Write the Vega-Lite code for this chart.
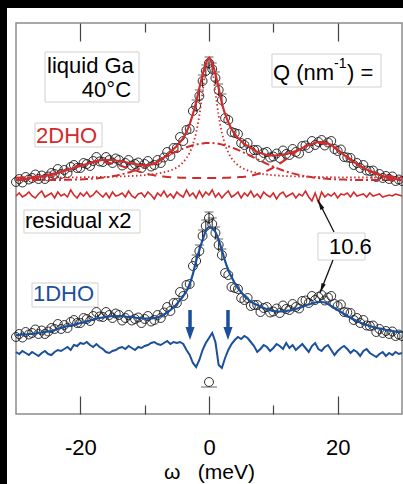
{
"$schema": "https://vega.github.io/schema/vega-lite/v6.json",
"width": 386, "height": 391,
"autosize": {"type": "none"},
"padding": {"left": 16, "top": 23, "right": 1, "bottom": 70},
"background": "white",
"data": {"values": [{}]},
"config": {"view": {"stroke": "#8c8c8c", "strokeWidth": 1.5}, "font": "Liberation Sans", "text": {"font": "Liberation Sans", "fontSize": 22}},
"datasets": {
"m": [
{"w":-30,"c2":232,"f2":234,"r2":218,"c1":77,"f1":79,"r1":62},
{"w":-29.5,"c2":235,"f2":234,"r2":221,"c1":80,"f1":79,"r1":60},
{"w":-29,"c2":231.5,"f2":234.5,"r2":217,"c1":76.5,"f1":79.5,"r1":63},
{"w":-28.5,"c2":237,"f2":235,"r2":219,"c1":82,"f1":79.5,"r1":61},
{"w":-28,"c2":234.5,"f2":235.5,"r2":222,"c1":79.5,"f1":80,"r1":59},
{"w":-27.5,"c2":236,"f2":236,"r2":218,"c1":81,"f1":80,"r1":62},
{"w":-27,"c2":239.5,"f2":236.5,"r2":216,"c1":84.5,"f1":80.5,"r1":60},
{"w":-26.5,"c2":235,"f2":237,"r2":220,"c1":80,"f1":81,"r1":58},
{"w":-26,"c2":238.5,"f2":237.5,"r2":223,"c1":83.5,"f1":81.5,"r1":61},
{"w":-25.5,"c2":235,"f2":238,"r2":217,"c1":80,"f1":82,"r1":63},
{"w":-25,"c2":237.5,"f2":238.5,"r2":219,"c1":82.5,"f1":82.5,"r1":60},
{"w":-24.5,"c2":241,"f2":239,"r2":221,"c1":86,"f1":83,"r1":59},
{"w":-24,"c2":240,"f2":240,"r2":216,"c1":85,"f1":84,"r1":62},
{"w":-23.5,"c2":245,"f2":241,"r2":222,"c1":90,"f1":85,"r1":64},
{"w":-23,"c2":240,"f2":242,"r2":218,"c1":85,"f1":86,"r1":63},
{"w":-22.5,"c2":244,"f2":243,"r2":220,"c1":89,"f1":87,"r1":65},
{"w":-22,"c2":241,"f2":244,"r2":217,"c1":86,"f1":88,"r1":67},
{"w":-21.5,"c2":247,"f2":245,"r2":224,"c1":92,"f1":88.5,"r1":64},
{"w":-21,"c2":249,"f2":246,"r2":219,"c1":94,"f1":89,"r1":69},
{"w":-20.5,"c2":246,"f2":247,"r2":216,"c1":91,"f1":90,"r1":68},
{"w":-20,"c2":246,"f2":248,"r2":221,"c1":91,"f1":91,"r1":71},
{"w":-19.5,"c2":251,"f2":249,"r2":218,"c1":96,"f1":91.5,"r1":70},
{"w":-19,"c2":250,"f2":250,"r2":222,"c1":95,"f1":92.5,"r1":72},
{"w":-18.5,"c2":248,"f2":251,"r2":217,"c1":93,"f1":93.5,"r1":69},
{"w":-18,"c2":253,"f2":252,"r2":219,"c1":98,"f1":94.5,"r1":67},
{"w":-17.5,"c2":257,"f2":253,"r2":223,"c1":102,"f1":95.5,"r1":70},
{"w":-17,"c2":252.5,"f2":253.5,"r2":220,"c1":97.5,"f1":96,"r1":67},
{"w":-16.5,"c2":252,"f2":254,"r2":217,"c1":97,"f1":96.5,"r1":65},
{"w":-16,"c2":257,"f2":254,"r2":221,"c1":102,"f1":97,"r1":62},
{"w":-15.5,"c2":254,"f2":254,"r2":216,"c1":99,"f1":97.5,"r1":61},
{"w":-15,"c2":251,"f2":254,"r2":222,"c1":96,"f1":98,"r1":63},
{"w":-14.5,"c2":255.5,"f2":253.5,"r2":218,"c1":100.5,"f1":98,"r1":64},
{"w":-14,"c2":254,"f2":253,"r2":219,"c1":99,"f1":98,"r1":66},
{"w":-13.5,"c2":248.5,"f2":252.5,"r2":221,"c1":93.5,"f1":98,"r1":67},
{"w":-13,"c2":251,"f2":252,"r2":217,"c1":96,"f1":97.5,"r1":65},
{"w":-12.5,"c2":254,"f2":251,"r2":223,"c1":99,"f1":97,"r1":68},
{"w":-12,"c2":248.5,"f2":250.5,"r2":218,"c1":93.5,"f1":97,"r1":66},
{"w":-11.5,"c2":250,"f2":250,"r2":216,"c1":95,"f1":96.5,"r1":64},
{"w":-11,"c2":251.5,"f2":249.5,"r2":220,"c1":96.5,"f1":96,"r1":67},
{"w":-10.5,"c2":246,"f2":249,"r2":221,"c1":91,"f1":96,"r1":66},
{"w":-10,"c2":250,"f2":249,"r2":217,"c1":95,"f1":95.5,"r1":68},
{"w":-9.5,"c2":253,"f2":249,"r2":222,"c1":98,"f1":95.5,"r1":69},
{"w":-9,"c2":247.5,"f2":249.5,"r2":219,"c1":92.5,"f1":95.5,"r1":71},
{"w":-8.5,"c2":249,"f2":250,"r2":215,"c1":94,"f1":96,"r1":72},
{"w":-8,"c2":254,"f2":252,"r2":221,"c1":99,"f1":96.5,"r1":70},
{"w":-7.5,"c2":251,"f2":254,"r2":218,"c1":96,"f1":98,"r1":69},
{"w":-7,"c2":256.5,"f2":256.5,"r2":223,"c1":101.5,"f1":99.5,"r1":71},
{"w":-6.5,"c2":262,"f2":259,"r2":217,"c1":107,"f1":101.5,"r1":73},
{"w":-6,"c2":258,"f2":262,"r2":220,"c1":103,"f1":104,"r1":70},
{"w":-5.5,"c2":266,"f2":265,"r2":216,"c1":111,"f1":106.5,"r1":72},
{"w":-5,"c2":266,"f2":268,"r2":222,"c1":111,"f1":110,"r1":71},
{"w":-4.5,"c2":277,"f2":272,"r2":219,"c1":122,"f1":114,"r1":72},
{"w":-4,"c2":273,"f2":276,"r2":217,"c1":118,"f1":118,"r1":70},
{"w":-3.5,"c2":284,"f2":282,"r2":224,"c1":129,"f1":123,"r1":64},
{"w":-3,"c2":285,"f2":290,"r2":218,"c1":130,"f1":130,"r1":59},
{"w":-2.5,"c2":303,"f2":300,"r2":221,"c1":148,"f1":140,"r1":51},
{"w":-2,"c2":308,"f2":312,"r2":216,"c1":153,"f1":153,"r1":47},
{"w":-1.5,"c2":318,"f2":326,"r2":223,"c1":163,"f1":164,"r1":54},
{"w":-1,"c2":333,"f2":339,"r2":217,"c1":178,"f1":174,"r1":64},
{"w":-0.5,"c2":343,"f2":350,"r2":222,"c1":188,"f1":183,"r1":71},
{"w":0,"c2":351,"f2":356,"r2":219,"c1":196,"f1":187,"r1":76},
{"w":0.5,"c2":345,"f2":351,"r2":224,"c1":190,"f1":185.5,"r1":81},
{"w":1,"c2":336,"f2":340,"r2":217,"c1":181,"f1":182,"r1":72},
{"w":1.5,"c2":324,"f2":326,"r2":221,"c1":169,"f1":174,"r1":49},
{"w":2,"c2":314,"f2":311,"r2":216,"c1":159,"f1":164,"r1":46},
{"w":2.5,"c2":296,"f2":300,"r2":220,"c1":141,"f1":153,"r1":56},
{"w":3,"c2":294,"f2":292,"r2":223,"c1":139,"f1":144,"r1":64},
{"w":3.5,"c2":282,"f2":285,"r2":217,"c1":127,"f1":137,"r1":70},
{"w":4,"c2":281,"f2":280,"r2":219,"c1":126,"f1":131,"r1":74},
{"w":4.5,"c2":280,"f2":276,"r2":222,"c1":125,"f1":126,"r1":77},
{"w":5,"c2":271,"f2":273,"r2":216,"c1":116,"f1":122,"r1":75},
{"w":5.5,"c2":269,"f2":270,"r2":221,"c1":114,"f1":118,"r1":78},
{"w":6,"c2":271,"f2":268,"r2":218,"c1":116,"f1":115,"r1":76},
{"w":6.5,"c2":263,"f2":266,"r2":223,"c1":108,"f1":112.5,"r1":72},
{"w":7,"c2":264,"f2":264,"r2":217,"c1":109,"f1":110.5,"r1":68},
{"w":7.5,"c2":264,"f2":262,"r2":220,"c1":109,"f1":109,"r1":62},
{"w":8,"c2":257,"f2":261,"r2":216,"c1":102,"f1":107.5,"r1":65},
{"w":8.5,"c2":261,"f2":260,"r2":222,"c1":106,"f1":106,"r1":69},
{"w":9,"c2":262,"f2":259,"r2":219,"c1":107,"f1":105,"r1":67},
{"w":9.5,"c2":256.5,"f2":258.5,"r2":217,"c1":101.5,"f1":104,"r1":63},
{"w":10,"c2":257.5,"f2":258.5,"r2":221,"c1":102.5,"f1":103,"r1":66},
{"w":10.5,"c2":260.5,"f2":258.5,"r2":215,"c1":105.5,"f1":102.5,"r1":70},
{"w":11,"c2":256,"f2":259,"r2":220,"c1":101,"f1":102.5,"r1":68},
{"w":11.5,"c2":263.5,"f2":259.5,"r2":222,"c1":108.5,"f1":102.5,"r1":65},
{"w":12,"c2":260,"f2":260,"r2":217,"c1":105,"f1":103,"r1":71},
{"w":12.5,"c2":259,"f2":261,"r2":219,"c1":104,"f1":103.5,"r1":66},
{"w":13,"c2":265,"f2":262,"r2":221,"c1":110,"f1":104,"r1":69},
{"w":13.5,"c2":262,"f2":263,"r2":216,"c1":107,"f1":105,"r1":64},
{"w":14,"c2":260.5,"f2":264.5,"r2":220,"c1":105.5,"f1":106,"r1":67},
{"w":14.5,"c2":268,"f2":266,"r2":218,"c1":113,"f1":107,"r1":70},
{"w":15,"c2":268.5,"f2":267.5,"r2":223,"c1":113.5,"f1":108.5,"r1":66},
{"w":15.5,"c2":266,"f2":269,"r2":217,"c1":111,"f1":109.5,"r1":62},
{"w":16,"c2":273,"f2":270,"r2":213,"c1":118,"f1":110.5,"r1":68},
{"w":16.5,"c2":269,"f2":271,"r2":221,"c1":114,"f1":111.5,"r1":71},
{"w":17,"c2":272,"f2":272,"r2":212,"c1":117,"f1":112,"r1":65},
{"w":17.5,"c2":274,"f2":272,"r2":222,"c1":119,"f1":112,"r1":63},
{"w":18,"c2":268.5,"f2":271.5,"r2":217,"c1":113.5,"f1":111.5,"r1":67},
{"w":18.5,"c2":271.5,"f2":270.5,"r2":220,"c1":116.5,"f1":110,"r1":69},
{"w":19,"c2":273,"f2":269,"r2":218,"c1":118,"f1":108,"r1":64},
{"w":19.5,"c2":265,"f2":267,"r2":221,"c1":110,"f1":106,"r1":59},
{"w":20,"c2":263,"f2":264,"r2":216,"c1":108,"f1":104,"r1":63},
{"w":20.5,"c2":264.5,"f2":261.5,"r2":220,"c1":109.5,"f1":102,"r1":66},
{"w":21,"c2":257,"f2":259,"r2":219,"c1":102,"f1":100,"r1":68},
{"w":21.5,"c2":256.5,"f2":256.5,"r2":221,"c1":101.5,"f1":98,"r1":65},
{"w":22,"c2":256,"f2":254,"r2":217,"c1":101,"f1":96,"r1":61},
{"w":22.5,"c2":249,"f2":252,"r2":222,"c1":94,"f1":94.5,"r1":64},
{"w":23,"c2":251,"f2":250,"r2":218,"c1":96,"f1":93,"r1":62},
{"w":23.5,"c2":246,"f2":248,"r2":219,"c1":91,"f1":91.5,"r1":58},
{"w":24,"c2":249,"f2":246,"r2":220,"c1":94,"f1":90,"r1":63},
{"w":24.5,"c2":243.5,"f2":244.5,"r2":217,"c1":88.5,"f1":89,"r1":65},
{"w":25,"c2":243,"f2":243,"r2":221,"c1":88,"f1":88,"r1":61},
{"w":25.5,"c2":243.5,"f2":241.5,"r2":218,"c1":88.5,"f1":87,"r1":59},
{"w":26,"c2":237,"f2":240,"r2":219,"c1":82,"f1":86,"r1":57},
{"w":26.5,"c2":240,"f2":239,"r2":220,"c1":85,"f1":85.5,"r1":60},
{"w":27,"c2":236,"f2":238,"r2":217,"c1":81,"f1":85,"r1":62},
{"w":27.5,"c2":238,"f2":237,"r2":218,"c1":83,"f1":84,"r1":58},
{"w":28,"c2":235,"f2":236,"r2":219,"c1":80,"f1":83.5,"r1":61},
{"w":28.5,"c2":237.5,"f2":235.5,"r2":218,"c1":82.5,"f1":83,"r1":59},
{"w":29,"c2":233,"f2":235,"r2":220,"c1":78,"f1":82.5,"r1":62},
{"w":29.5,"c2":234.5,"f2":234.5,"r2":219,"c1":79.5,"f1":82,"r1":60},
{"w":30,"c2":233,"f2":234,"r2":218,"c1":78,"f1":82,"r1":61}
],
"c": [
{"w":-30,"n":236.3,"b":234,"e":236.3},{"w":-29,"n":236.3,"b":234,"e":236.5},{"w":-28,"n":236.4,"b":234,"e":236.8},
{"w":-27,"n":236.4,"b":234,"e":237.4},{"w":-26,"n":236.4,"b":234,"e":238.1},{"w":-25,"n":236.5,"b":234,"e":239.3},
{"w":-24,"n":236.5,"b":234,"e":240.8},{"w":-23,"n":236.5,"b":234,"e":242.6},{"w":-22,"n":236.6,"b":234.3,"e":244.6},
{"w":-21,"n":236.7,"b":234.4,"e":246.8},{"w":-20,"n":236.7,"b":234.6,"e":248.8},{"w":-19,"n":236.8,"b":234.9,"e":250.5},
{"w":-18,"n":236.9,"b":235.4,"e":251.6},{"w":-17,"n":237.0,"b":235.9,"e":252},{"w":-16,"n":237.1,"b":236.7,"e":251.6},
{"w":-15,"n":237.3,"b":237.7,"e":250.5},{"w":-14,"n":237.5,"b":239,"e":248.8},{"w":-13,"n":237.7,"b":240.6,"e":246.8},
{"w":-12,"n":238.0,"b":242.5,"e":244.6},{"w":-11,"n":238.4,"b":244.8,"e":242.6},{"w":-10,"n":238.8,"b":247.3,"e":240.8},
{"w":-9,"n":239.5,"b":250.2,"e":239.3},{"w":-8,"n":240.4,"b":253.3,"e":238.1},{"w":-7,"n":241.7,"b":256.4,"e":237.4},
{"w":-6,"n":243.6,"b":259.6,"e":236.8},{"w":-5.5,"n":244.9,"b":261.2,"e":236.6},{"w":-5,"n":246.6,"b":262.7,"e":236.5},
{"w":-4.5,"n":248.8,"b":264.1,"e":236.3},{"w":-4,"n":251.8,"b":265.4,"e":236.3},{"w":-3.5,"n":255.8,"b":266.7,"e":236.2},
{"w":-3,"n":261.5,"b":267.8,"e":236.2},{"w":-2.5,"n":269.6,"b":268.7,"e":236.1},{"w":-2,"n":281.4,"b":269.5,"e":236.1},
{"w":-1.5,"n":298.5,"b":270.2,"e":236.1},{"w":-1,"n":321.4,"b":270.6,"e":236.1},{"w":-0.5,"n":345.6,"b":270.9,"e":236.1},
{"w":0,"n":357,"b":271,"e":236},{"w":0.5,"n":345.6,"b":270.9,"e":236},{"w":1,"n":321.4,"b":270.6,"e":236},
{"w":1.5,"n":298.5,"b":270.2,"e":236.1},{"w":2,"n":281.4,"b":269.5,"e":236.1},{"w":2.5,"n":269.6,"b":268.7,"e":236.2},
{"w":3,"n":261.5,"b":267.8,"e":236.3},{"w":3.5,"n":255.8,"b":266.7,"e":236.4},{"w":4,"n":251.8,"b":265.4,"e":236.5},
{"w":4.5,"n":248.8,"b":264.1,"e":236.8},{"w":5,"n":246.6,"b":262.7,"e":237},{"w":5.5,"n":244.9,"b":261.2,"e":237.3},
{"w":6,"n":243.6,"b":259.6,"e":237.8},{"w":7,"n":241.7,"b":256.4,"e":239},{"w":8,"n":240.4,"b":253.3,"e":240.7},
{"w":9,"n":239.5,"b":250.2,"e":243.2},{"w":10,"n":238.8,"b":247.3,"e":246.4},{"w":11,"n":238.4,"b":244.8,"e":250.4},
{"w":12,"n":238.0,"b":242.5,"e":254.9},{"w":13,"n":237.7,"b":240.6,"e":259.6},{"w":14,"n":237.5,"b":239,"e":264},
{"w":15,"n":237.3,"b":237.7,"e":267.7},{"w":16,"n":237.1,"b":236.7,"e":270.1},{"w":17,"n":237.0,"b":235.9,"e":271},
{"w":18,"n":236.9,"b":235.4,"e":270.1},{"w":19,"n":236.8,"b":234.9,"e":267.7},{"w":20,"n":236.7,"b":234.6,"e":264},
{"w":21,"n":236.7,"b":234.4,"e":259.6},{"w":22,"n":236.6,"b":234.3,"e":254.9},{"w":23,"n":236.5,"b":234,"e":250.4},
{"w":24,"n":236.5,"b":234,"e":246.4},{"w":25,"n":236.5,"b":234,"e":243.2},{"w":26,"n":236.4,"b":234,"e":240.7},
{"w":27,"n":236.4,"b":234,"e":239},{"w":28,"n":236.4,"b":234,"e":237.8},{"w":29,"n":236.3,"b":234,"e":237},
{"w":30,"n":236.3,"b":234,"e":236.5}
],
"er": [
{"w":-2,"lo2":302,"hi2":314,"lo1":147,"hi1":159},
{"w":-1.5,"lo2":312,"hi2":324,"lo1":157,"hi1":169},
{"w":-1,"lo2":327,"hi2":339,"lo1":172,"hi1":184},
{"w":-0.5,"lo2":337,"hi2":349,"lo1":182,"hi1":194},
{"w":0,"lo2":345,"hi2":357,"lo1":190,"hi1":202},
{"w":0.5,"lo2":339,"hi2":351,"lo1":184,"hi1":196},
{"w":1,"lo2":330,"hi2":342,"lo1":175,"hi1":187},
{"w":1.5,"lo2":318,"hi2":330,"lo1":163,"hi1":175},
{"w":2,"lo2":308,"hi2":320,"lo1":153,"hi1":165}
],
"arr": [{"w":-2.95},{"w":2.95}]
},
"resolve": {"axis": {"x": "independent"}},
"layer": [
{"mark": {"type": "rect", "color": "black", "clip": false},
 "encoding": {"x": {"datum": -40, "type": "quantitative", "scale": {"domain": [-30, 30], "nice": false, "zero": false}, "axis": null}, "x2": {"datum": -31.4},
  "y": {"datum": -100, "type": "quantitative", "scale": {"domain": [0, 391], "nice": false, "zero": false}, "axis": null}, "y2": {"datum": 450}}},
{"mark": {"type": "rect", "color": "black", "clip": false},
 "encoding": {"x": {"datum": -40, "type": "quantitative", "axis": null}, "x2": {"datum": 40},
  "y": {"datum": 406, "type": "quantitative", "axis": null}, "y2": {"datum": 450}}},
{"mark": {"type": "rect", "fill": "white", "stroke": "#d0d0d0", "strokeWidth": 1},
 "encoding": {"x": {"datum": -25.49, "type": "quantitative", "axis": null}, "x2": {"datum": -10.88}, "y": {"datum": 362, "type": "quantitative", "axis": null}, "y2": {"datum": 312}}},
{"mark": {"type": "rect", "fill": "white", "stroke": "#d0d0d0", "strokeWidth": 1},
 "encoding": {"x": {"datum": 9.79, "type": "quantitative", "axis": null}, "x2": {"datum": 26.74}, "y": {"datum": 360, "type": "quantitative", "axis": null}, "y2": {"datum": 327}}},
{"mark": {"type": "rect", "fill": "white", "stroke": "#d0d0d0", "strokeWidth": 1},
 "encoding": {"x": {"datum": -27.05, "type": "quantitative", "axis": null}, "x2": {"datum": -16.63}, "y": {"datum": 291, "type": "quantitative", "axis": null}, "y2": {"datum": 267}}},
{"mark": {"type": "rect", "fill": "white", "stroke": "#d0d0d0", "strokeWidth": 1},
 "encoding": {"x": {"datum": -28.76, "type": "quantitative", "axis": null}, "x2": {"datum": -10.73}, "y": {"datum": 204, "type": "quantitative", "axis": null}, "y2": {"datum": 181}}},
{"mark": {"type": "rect", "fill": "white", "stroke": "#d0d0d0", "strokeWidth": 1},
 "encoding": {"x": {"datum": -27.51, "type": "quantitative", "axis": null}, "x2": {"datum": -17.25}, "y": {"datum": 131, "type": "quantitative", "axis": null}, "y2": {"datum": 107}}},
{"mark": {"type": "rect", "fill": "white", "stroke": "#d0d0d0", "strokeWidth": 1},
 "encoding": {"x": {"datum": 16.94, "type": "quantitative", "axis": null}, "x2": {"datum": 24.25}, "y": {"datum": 181, "type": "quantitative", "axis": null}, "y2": {"datum": 154}}},
{"data": {"name": "m"},
 "mark": {"type": "point", "filled": false, "stroke": "#1a1a1a", "strokeWidth": 0.9, "size": 80, "opacity": 1, "clip": false},
 "encoding": {"x": {"field": "w", "type": "quantitative",
   "axis": {"orient": "bottom", "values": [-20, -10, 0, 10, 20], "tickSize": {"condition": {"test": "datum.value % 20 === 0", "value": -18}, "value": -9},
    "tickColor": "#444", "tickWidth": 1.2, "domain": false, "grid": false,
    "labelExpr": "datum.value % 20 === 0 ? toString(datum.value) : ''", "labelFont": "Liberation Sans", "labelFontSize": 22, "labelColor": "#000", "labelPadding": 41,
    "labelFlush": false, "labelOverlap": false,
    "title": "ω\u00a0\u00a0\u00a0(meV)", "titleFont": "Liberation Sans", "titleFontSize": 21, "titleFontWeight": "normal", "titleColor": "#000", "titlePadding": -6, "zindex": 1}},
  "y": {"field": "c2", "type": "quantitative", "axis": null}}},
{"data": {"name": "m"},
 "mark": {"type": "point", "filled": false, "stroke": "#1a1a1a", "strokeWidth": 0.9, "size": 80, "opacity": 1, "clip": false},
 "encoding": {"x": {"field": "w", "type": "quantitative", "axis": null}, "y": {"field": "c1", "type": "quantitative", "axis": null}}},
{"data": {"name": "er"}, "mark": {"type": "rule", "color": "#222", "strokeWidth": 1},
 "encoding": {"x": {"field": "w", "type": "quantitative", "axis": null}, "y": {"field": "lo2", "type": "quantitative", "axis": null}, "y2": {"field": "hi2"}}},
{"data": {"name": "er"}, "mark": {"type": "tick", "orient": "horizontal", "color": "#222", "size": 9, "thickness": 1},
 "encoding": {"x": {"field": "w", "type": "quantitative", "axis": null}, "y": {"field": "hi2", "type": "quantitative", "axis": null}}},
{"data": {"name": "er"}, "mark": {"type": "rule", "color": "#222", "strokeWidth": 1},
 "encoding": {"x": {"field": "w", "type": "quantitative", "axis": null}, "y": {"field": "lo1", "type": "quantitative", "axis": null}, "y2": {"field": "hi1"}}},
{"data": {"name": "er"}, "mark": {"type": "tick", "orient": "horizontal", "color": "#222", "size": 9, "thickness": 1},
 "encoding": {"x": {"field": "w", "type": "quantitative", "axis": null}, "y": {"field": "hi1", "type": "quantitative", "axis": null}}},
{"data": {"name": "c"}, "mark": {"type": "line", "color": "#d22b2b", "strokeWidth": 1.8, "strokeDash": [1.5, 2.5], "interpolate": "monotone"},
 "encoding": {"x": {"field": "w", "type": "quantitative", "axis": null}, "y": {"field": "n", "type": "quantitative", "axis": null}}},
{"data": {"name": "c"}, "mark": {"type": "line", "color": "#d22b2b", "strokeWidth": 2, "strokeDash": [8, 3, 2, 3], "interpolate": "monotone"},
 "encoding": {"x": {"field": "w", "type": "quantitative", "axis": null}, "y": {"field": "b", "type": "quantitative", "axis": null}}},
{"data": {"name": "c"}, "mark": {"type": "line", "color": "#d22b2b", "strokeWidth": 2, "strokeDash": [9, 6], "interpolate": "monotone"},
 "encoding": {"x": {"field": "w", "type": "quantitative", "axis": null}, "y": {"field": "e", "type": "quantitative", "axis": null}}},
{"data": {"name": "m"}, "mark": {"type": "line", "color": "#d22b2b", "strokeWidth": 2.2, "interpolate": "monotone"},
 "encoding": {"x": {"field": "w", "type": "quantitative",
   "axis": {"orient": "top", "values": [-20, -10, 0, 10, 20], "tickSize": {"condition": {"test": "datum.value % 20 === 0", "value": -18}, "value": -9},
    "tickColor": "#444", "tickWidth": 1.2, "domain": false, "grid": false, "labels": false, "title": null, "zindex": 1}},
  "y": {"field": "f2", "type": "quantitative", "axis": null}}},
{"data": {"name": "m"}, "mark": {"type": "line", "color": "#d22b2b", "strokeWidth": 1.6},
 "encoding": {"x": {"field": "w", "type": "quantitative", "axis": null}, "y": {"field": "r2", "type": "quantitative", "axis": null}}},
{"data": {"name": "m"}, "mark": {"type": "line", "color": "#1b4f9c", "strokeWidth": 2.2, "interpolate": "monotone"},
 "encoding": {"x": {"field": "w", "type": "quantitative", "axis": null}, "y": {"field": "f1", "type": "quantitative", "axis": null}}},
{"data": {"name": "m"}, "mark": {"type": "line", "color": "#1b4f9c", "strokeWidth": 2},
 "encoding": {"x": {"field": "w", "type": "quantitative", "axis": null}, "y": {"field": "r1", "type": "quantitative", "axis": null}}},
{"data": {"name": "arr"}, "mark": {"type": "rule", "color": "#1b4f9c", "strokeWidth": 3.5},
 "encoding": {"x": {"field": "w", "type": "quantitative", "axis": null}, "y": {"datum": 104, "type": "quantitative", "axis": null}, "y2": {"datum": 86}}},
{"data": {"name": "arr"}, "mark": {"type": "point", "shape": "M0,0L-0.7,-2L0.7,-2Z", "filled": true, "color": "#1b4f9c", "size": 169, "opacity": 1},
 "encoding": {"x": {"field": "w", "type": "quantitative", "axis": null}, "y": {"datum": 74, "type": "quantitative", "axis": null}}},
{"mark": {"type": "rule", "color": "#111", "strokeWidth": 1.3},
 "encoding": {"x": {"datum": 19.43, "type": "quantitative", "axis": null}, "x2": {"datum": 16.94}, "y": {"datum": 182, "type": "quantitative", "axis": null}, "y2": {"datum": 214}}},
{"mark": {"type": "point", "shape": "M0,0L-0.35,1.6L0.35,1.6Z", "filled": true, "color": "#111", "size": 156, "opacity": 1, "angle": 334},
 "encoding": {"x": {"datum": 16.94, "type": "quantitative", "axis": null}, "y": {"datum": 214, "type": "quantitative", "axis": null}}},
{"mark": {"type": "rule", "color": "#111", "strokeWidth": 1.3},
 "encoding": {"x": {"datum": 19.27, "type": "quantitative", "axis": null}, "x2": {"datum": 17.25}, "y": {"datum": 154, "type": "quantitative", "axis": null}, "y2": {"datum": 121}}},
{"mark": {"type": "point", "shape": "M0,0L-0.35,1.6L0.35,1.6Z", "filled": true, "color": "#111", "size": 156, "opacity": 1, "angle": 201.5},
 "encoding": {"x": {"datum": 17.25, "type": "quantitative", "axis": null}, "y": {"datum": 121, "type": "quantitative", "axis": null}}},
{"mark": {"type": "point", "filled": false, "stroke": "#1a1a1a", "strokeWidth": 0.9, "size": 80, "opacity": 1},
 "encoding": {"x": {"datum": 0, "type": "quantitative", "axis": null}, "y": {"datum": 32, "type": "quantitative", "axis": null}}},
{"mark": {"type": "tick", "orient": "horizontal", "color": "#222", "size": 16, "thickness": 1},
 "encoding": {"x": {"datum": 0, "type": "quantitative", "axis": null}, "y": {"datum": 27, "type": "quantitative", "axis": null}}},
{"mark": {"type": "text", "text": "liquid Ga", "align": "left", "baseline": "alphabetic", "fontSize": 22, "color": "#000"},
 "encoding": {"x": {"datum": -25.18, "type": "quantitative", "axis": null}, "y": {"datum": 341, "type": "quantitative", "axis": null}}},
{"mark": {"type": "text", "text": "40°C", "align": "right", "baseline": "alphabetic", "fontSize": 22, "color": "#000"},
 "encoding": {"x": {"datum": -12.12, "type": "quantitative", "axis": null}, "y": {"datum": 317, "type": "quantitative", "axis": null}}},
{"mark": {"type": "text", "text": "Q (nm", "align": "left", "baseline": "alphabetic", "fontSize": 22, "color": "#000"},
 "encoding": {"x": {"datum": 9.95, "type": "quantitative", "axis": null}, "y": {"datum": 334, "type": "quantitative", "axis": null}}},
{"mark": {"type": "text", "text": "-1", "align": "left", "baseline": "alphabetic", "fontSize": 14, "color": "#000"},
 "encoding": {"x": {"datum": 19.43, "type": "quantitative", "axis": null}, "y": {"datum": 346, "type": "quantitative", "axis": null}}},
{"mark": {"type": "text", "text": ") =", "align": "left", "baseline": "alphabetic", "fontSize": 22, "color": "#000"},
 "encoding": {"x": {"datum": 21.45, "type": "quantitative", "axis": null}, "y": {"datum": 334, "type": "quantitative", "axis": null}}},
{"mark": {"type": "text", "text": "2DHO", "align": "left", "baseline": "alphabetic", "fontSize": 22, "color": "#d22b2b"},
 "encoding": {"x": {"datum": -26.89, "type": "quantitative", "axis": null}, "y": {"datum": 271, "type": "quantitative", "axis": null}}},
{"mark": {"type": "text", "text": "residual x2", "align": "left", "baseline": "alphabetic", "fontSize": 22, "color": "#000"},
 "encoding": {"x": {"datum": -28.6, "type": "quantitative", "axis": null}, "y": {"datum": 186, "type": "quantitative", "axis": null}}},
{"mark": {"type": "text", "text": "1DHO", "align": "left", "baseline": "alphabetic", "fontSize": 22, "color": "#1b4f9c"},
 "encoding": {"x": {"datum": -27.36, "type": "quantitative", "axis": null}, "y": {"datum": 113, "type": "quantitative", "axis": null}}},
{"mark": {"type": "text", "text": "10.6", "align": "left", "baseline": "alphabetic", "fontSize": 22, "color": "#000"},
 "encoding": {"x": {"datum": 18.65, "type": "quantitative", "axis": null}, "y": {"datum": 160, "type": "quantitative", "axis": null}}}
]
}
